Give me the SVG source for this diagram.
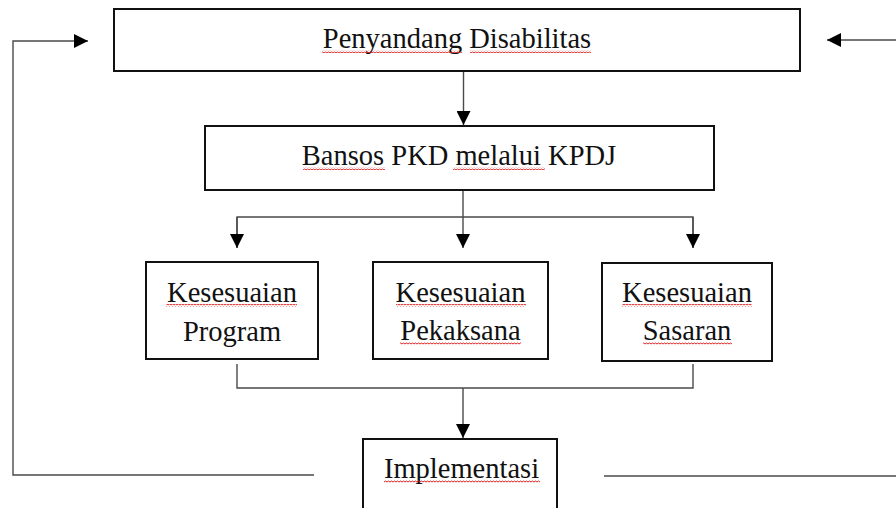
<svg xmlns="http://www.w3.org/2000/svg" width="896" height="508" viewBox="0 0 896 508">
  <style>
    .box { fill: #ffffff; stroke: #111111; stroke-width: 2; }
    .lbl { font-family: "Liberation Serif", "Times New Roman", serif; font-size: 28.5px; fill: #111111; text-anchor: middle; }
    .con { fill: none; stroke: #4a4a4a; stroke-width: 1.4; }
    .sq { fill: url(#squiggle); }
  </style>
  <defs>
    <marker id="arrow" viewBox="0 0 14 14" refX="14" refY="7" markerWidth="14" markerHeight="14" markerUnits="userSpaceOnUse" orient="auto">
      <path d="M0,0 L14,7 L0,14 z" fill="#000000"/>
    </marker>
    <pattern id="squiggle" x="0" y="0" width="3" height="3" patternUnits="userSpaceOnUse">
      <path d="M0,2 L1.5,1 L3,2" fill="none" stroke="#e02020" stroke-width="1"/>
    </pattern>
  </defs>

  <g id="connectors">
    <line class="con" x1="463.5" y1="72" x2="463.5" y2="125" marker-end="url(#arrow)"/>
    <line class="con" x1="463" y1="190" x2="463" y2="248" marker-end="url(#arrow)"/>
    <polyline class="con" points="237,248 237,217 693,217 693,248"/>
    <line class="con" x1="237" y1="217" x2="237" y2="248" marker-end="url(#arrow)"/>
    <line class="con" x1="693" y1="217" x2="693" y2="248" marker-end="url(#arrow)"/>
    <polyline class="con" points="237,364 237,388 693,388 693,364"/>
    <line class="con" x1="463" y1="388" x2="463" y2="438" marker-end="url(#arrow)"/>
    <polyline class="con" points="314,475 13,475 13,41 88,41" marker-end="url(#arrow)"/>
    <line class="con" x1="604" y1="476" x2="896" y2="476"/>
    <line class="con" x1="896" y1="40" x2="827" y2="40" marker-end="url(#arrow)"/>
  </g>

  <g id="penyandang">
    <rect class="box" x="114" y="9" width="686" height="62"/>
    <text class="lbl" x="457" y="48">Penyandang Disabilitas</text>
    <rect class="sq" x="322" y="50" width="140" height="3"/>
    <rect class="sq" x="470" y="50" width="121" height="3"/>
  </g>

  <g id="bansos">
    <rect class="box" x="205" y="126" width="509" height="64"/>
    <text class="lbl" x="459" y="165">Bansos PKD melalui KPDJ</text>
    <rect class="sq" x="303" y="167" width="82" height="3"/>
    <rect class="sq" x="453" y="167" width="92" height="3"/>
  </g>

  <g id="program">
    <rect class="box" x="146" y="262" width="172" height="97"/>
    <text class="lbl" x="232" y="302">Kesesuaian</text>
    <text class="lbl" x="232" y="341">Program</text>
    <rect class="sq" x="166" y="304" width="131" height="3"/>
  </g>

  <g id="pelaksana">
    <rect class="box" x="373" y="262" width="175" height="97"/>
    <text class="lbl" x="460.5" y="302">Kesesuaian</text>
    <text class="lbl" x="460.5" y="340">Pekaksana</text>
    <rect class="sq" x="396" y="304" width="130" height="3"/>
    <rect class="sq" x="400" y="342" width="121" height="3"/>
  </g>

  <g id="sasaran">
    <rect class="box" x="602" y="263" width="170" height="98"/>
    <text class="lbl" x="687" y="302">Kesesuaian</text>
    <text class="lbl" x="687" y="340">Sasaran</text>
    <rect class="sq" x="622" y="304" width="130" height="3"/>
    <rect class="sq" x="643" y="342" width="89" height="3"/>
  </g>

  <g id="implementasi">
    <rect class="box" x="363" y="439" width="194" height="100"/>
    <text class="lbl" x="461.5" y="478">Implementasi</text>
    <rect class="sq" x="384" y="480" width="156" height="3"/>
  </g>
</svg>
